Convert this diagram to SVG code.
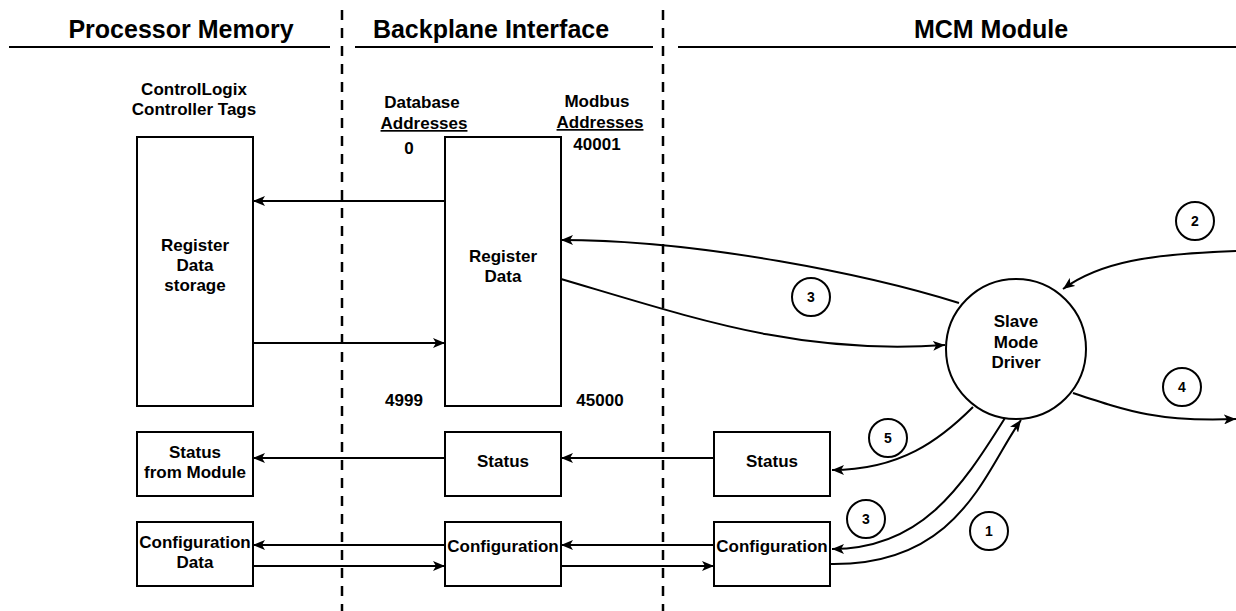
<svg xmlns="http://www.w3.org/2000/svg" width="1236" height="611" viewBox="0 0 1236 611">
<style>
text{font-family:"Liberation Sans",Arial,sans-serif;font-weight:bold;fill:#000;text-anchor:middle}
.h{font-size:25px}
.t{font-size:17px}
.n{font-size:14px}
.box{fill:#fff;stroke:#000;stroke-width:2}
.ln{fill:none;stroke:#000;stroke-width:2}
.dash{stroke:#000;stroke-width:2.5;stroke-dasharray:10 8}
.hl{stroke:#000;stroke-width:2}
.u{text-decoration:underline}
</style>
<defs>
<marker id="a" viewBox="0 0 12 10" refX="12" refY="5" markerWidth="12" markerHeight="10" orient="auto" markerUnits="userSpaceOnUse"><path d="M0,0 L12,5 L0,10 L3,5 z" fill="#000"/></marker>
</defs>
<g id="headers">
<text class="h" x="181" y="38">Processor Memory</text>
<text class="h" x="491" y="38">Backplane Interface</text>
<text class="h" x="991" y="38">MCM Module</text>
<line class="hl" x1="9" y1="47" x2="330" y2="47"/>
<line class="hl" x1="355" y1="47" x2="653" y2="47"/>
<line class="hl" x1="678" y1="47" x2="1236" y2="47"/>
<line class="dash" x1="342" y1="10" x2="342" y2="611"/>
<line class="dash" x1="663" y1="10" x2="663" y2="611"/>
</g>
<g id="labels">
<text class="t" x="194" y="95">ControlLogix</text>
<text class="t" x="194" y="115">Controller Tags</text>
<text class="t" x="422" y="108">Database</text>
<text class="t u" x="424" y="129">Addresses</text>
<text class="t" x="597" y="107">Modbus</text>
<text class="t u" x="600" y="128">Addresses</text>
<text class="t" x="409" y="154">0</text>
<text class="t" x="597" y="150">40001</text>
<text class="t" x="404" y="406">4999</text>
<text class="t" x="600" y="406">45000</text>
</g>
<g id="connectors">
<line class="ln" x1="445" y1="201" x2="253" y2="201" marker-end="url(#a)"/>
<line class="ln" x1="253" y1="343" x2="445" y2="343" marker-end="url(#a)"/>
<line class="ln" x1="445" y1="458" x2="253" y2="458" marker-end="url(#a)"/>
<line class="ln" x1="714" y1="458" x2="561" y2="458" marker-end="url(#a)"/>
<line class="ln" x1="445" y1="545" x2="253" y2="545" marker-end="url(#a)"/>
<line class="ln" x1="714" y1="545" x2="561" y2="545" marker-end="url(#a)"/>
<line class="ln" x1="253" y1="566" x2="445" y2="566" marker-end="url(#a)"/>
<line class="ln" x1="561" y1="566" x2="714" y2="566" marker-end="url(#a)"/>
<path class="ln" d="M959,303 C870,275 700,240 561,240" marker-end="url(#a)"/>
<path class="ln" d="M561,279 C700,320 800,355 945,345" marker-end="url(#a)"/>
<path class="ln" d="M1236,251 C1150,254 1100,262 1063,289" marker-end="url(#a)"/>
<path class="ln" d="M1073,393 C1130,412 1160,422 1236,419" marker-end="url(#a)"/>
<path class="ln" d="M973,407 C940,440 900,470 832,470" marker-end="url(#a)"/>
<path class="ln" d="M1005,418 C960,490 920,549 832,549" marker-end="url(#a)"/>
<path class="ln" d="M830,564 C960,566 985,470 1021,420" marker-end="url(#a)"/>
</g>
<g id="tags-box">
<rect class="box" x="137" y="137" width="116" height="269"/>
<text class="t" x="195" y="251">Register</text>
<text class="t" x="195" y="271">Data</text>
<text class="t" x="195" y="291">storage</text>
</g>
<g id="register-data">
<rect class="box" x="445" y="137" width="116" height="269"/>
<text class="t" x="503" y="262">Register</text>
<text class="t" x="503" y="282">Data</text>
</g>
<g id="status-left">
<rect class="box" x="137" y="432" width="116" height="64"/>
<text class="t" x="195" y="458">Status</text>
<text class="t" x="195" y="478">from Module</text>
</g>
<g id="status-mid">
<rect class="box" x="445" y="432" width="116" height="64"/>
<text class="t" x="503" y="467">Status</text>
</g>
<g id="status-right">
<rect class="box" x="714" y="432" width="116" height="64"/>
<text class="t" x="772" y="467">Status</text>
</g>
<g id="config-left">
<rect class="box" x="137" y="522" width="116" height="64"/>
<text class="t" x="195" y="548">Configuration</text>
<text class="t" x="195" y="568">Data</text>
</g>
<g id="config-mid">
<rect class="box" x="445" y="522" width="116" height="64"/>
<text class="t" x="503" y="552">Configuration</text>
</g>
<g id="config-right">
<rect class="box" x="714" y="522" width="116" height="64"/>
<text class="t" x="772" y="552">Configuration</text>
</g>
<g id="driver">
<circle class="box" cx="1016" cy="349" r="70"/>
<text class="t" x="1016" y="327">Slave</text>
<text class="t" x="1016" y="348">Mode</text>
<text class="t" x="1016" y="368">Driver</text>
</g>
<g id="step1"><circle class="box" cx="989" cy="531" r="19"/><text class="n" x="989" y="536">1</text></g>
<g id="step2"><circle class="box" cx="1195" cy="221" r="19"/><text class="n" x="1195" y="226">2</text></g>
<g id="step3a"><circle class="box" cx="811" cy="297" r="19"/><text class="n" x="811" y="302">3</text></g>
<g id="step3b"><circle class="box" cx="866" cy="519" r="19"/><text class="n" x="866" y="524">3</text></g>
<g id="step4"><circle class="box" cx="1182" cy="387" r="19"/><text class="n" x="1182" y="392">4</text></g>
<g id="step5"><circle class="box" cx="888" cy="438" r="19"/><text class="n" x="888" y="443">5</text></g>
</svg>
